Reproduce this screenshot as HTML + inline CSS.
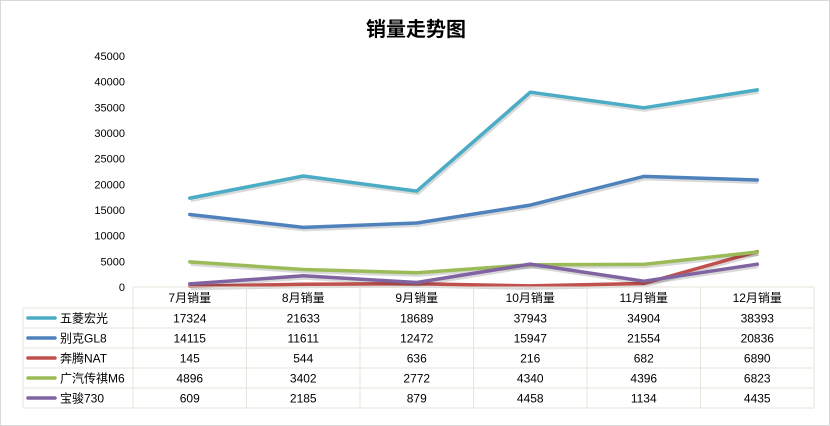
<!DOCTYPE html>
<html><head><meta charset="utf-8">
<style>
body{margin:0;background:#fff;}
#wrap{position:relative;width:830px;height:426px;overflow:hidden;font-family:"Liberation Sans","Noto Sans CJK SC",sans-serif;}
</style></head>
<body>
<div id="wrap">
<svg id="chart" width="830" height="426" xmlns="http://www.w3.org/2000/svg">
<rect x="0.5" y="0.5" width="829" height="425" fill="#fff" stroke="#d9d9d9"/>
<text x="416" y="36" text-anchor="middle" font-size="20" font-weight="bold" fill="#000">销量走势图</text>
<g id="yaxis"></g>
<g id="lines"></g>
<g id="table"></g>
</svg>
</div>
<script>
const categories=["7月销量","8月销量","9月销量","10月销量","11月销量","12月销量"];
const seriesNames=["五菱宏光","别克GL8","奔腾NAT","广汽传祺M6","宝骏730"];
const wuling=[17324,21633,18689,37943,34904,38393];
const buick=[14115,11611,12472,15947,21554,20836];
const besturn=[145,544,636,216,682,6890];
const trumpchi=[4896,3402,2772,4340,4396,6823];
const baojun=[609,2185,879,4458,1134,4435];
const yTicks=[0,5000,10000,15000,20000,25000,30000,35000,40000,45000];

const colors=["#4bacc6","#4f81bd","#c0504d","#9bbb59","#8064a2"];
const allSeries=[wuling,buick,besturn,trumpchi,baojun];
const NS="http://www.w3.org/2000/svg";
const x0=133,x1=814,y0=287,yTop=56,yMax=45000;
const colW=(x1-x0)/categories.length;
function xs(i){return x0+colW*(i+0.5);}
function ys(v){return y0-(v/yMax)*(y0-yTop);}
function mk(tag,attrs,parent,text){const e=document.createElementNS(NS,tag);for(const k in attrs)e.setAttribute(k,attrs[k]);if(text!==undefined)e.textContent=text;parent.appendChild(e);return e;}

const ya=document.getElementById('yaxis');
yTicks.forEach(t=>{
  const e=mk('text',{x:125,y:ys(t)+4,'text-anchor':'end','font-size':11,fill:'#000'},ya,String(t));
  
  
});

const lg=document.getElementById('lines');
allSeries.forEach((s,si)=>{
  const pts=s.map((v,i)=>xs(i).toFixed(1)+","+ys(v).toFixed(1)).join(" ");
  const sh=mk('polyline',{points:pts,fill:'none',stroke:'#000','stroke-opacity':0.15,'stroke-width':4,transform:'translate(1,2)','stroke-linejoin':'round'},lg);
  
  
  const p=mk('polyline',{points:pts,fill:'none',stroke:colors[si],'stroke-width':3.5,'stroke-linejoin':'round','stroke-linecap':'round'},lg);
  
  
});

const tg=document.getElementById('table');
const lx=23,rowH=20,hdrTop=287,hdrBot=308;
const gc='#e6e3da';
// header grid
mk('line',{x1:x0,y1:hdrTop,x2:x1,y2:hdrTop,stroke:gc},tg);
for(let r=0;r<=seriesNames.length;r++){
  const y=hdrBot+r*rowH;
  mk('line',{x1:lx,y1:y,x2:x1,y2:y,stroke:gc},tg);
}
mk('line',{x1:lx,y1:hdrBot,x2:lx,y2:hdrBot+5*rowH,stroke:gc},tg);
for(let c=0;c<=categories.length;c++){
  const x=x0+c*colW;
  mk('line',{x1:x,y1:hdrTop,x2:x,y2:hdrBot+5*rowH,stroke:gc},tg);
}
categories.forEach((c,i)=>{
  const e=mk('text',{x:xs(i),y:302,'text-anchor':'middle','font-size':12,fill:'#000'},tg,c);
  
  
});
seriesNames.forEach((n,si)=>{
  const cy=hdrBot+si*rowH+rowH/2;
  const k=mk('line',{x1:28,y1:cy,x2:55,y2:cy,stroke:colors[si],'stroke-width':3.5,'stroke-linecap':'round'},tg);
  
  
  const t=mk('text',{x:60,y:cy+4.5,'font-size':12,fill:'#000'},tg,n);
  
  
  allSeries[si].forEach((v,i)=>{
    const d=mk('text',{x:xs(i),y:cy+4.5,'text-anchor':'middle','font-size':12,fill:'#000'},tg,String(v));
    
    
  });
});
</script>
</body></html>
